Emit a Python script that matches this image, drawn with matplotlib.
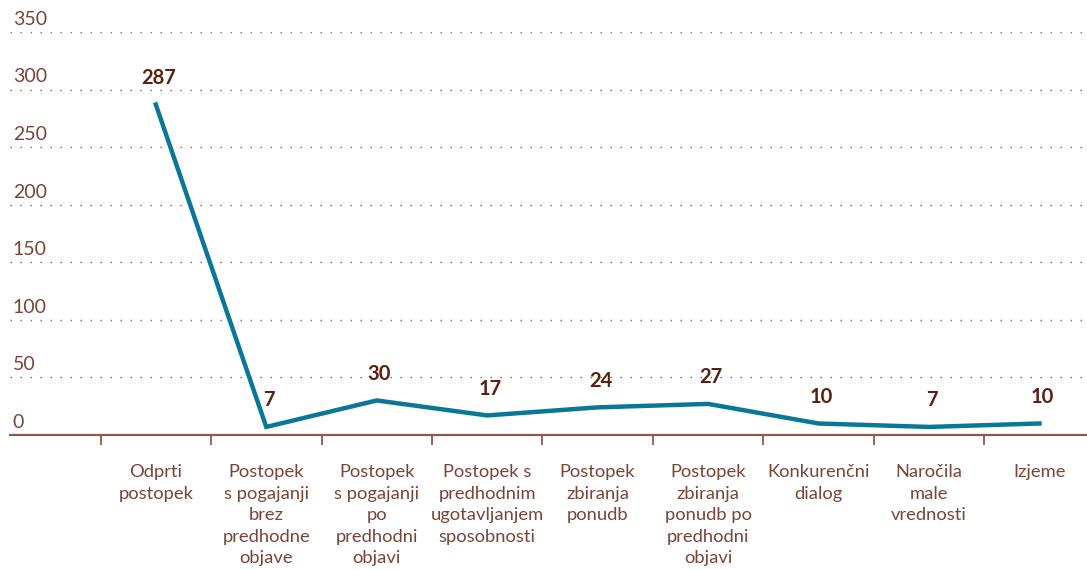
import matplotlib
matplotlib.use("Agg")
import matplotlib.pyplot as plt
import matplotlib.transforms as mtransforms

categories = [
    "Odprti\npostopek",
    "Postopek\ns pogajanji\nbrez\npredhodne\nobjave",
    "Postopek\ns pogajanji\npo\npredhodni\nobjavi",
    "Postopek s\npredhodnim\nugotavljanjem\nsposobnosti",
    "Postopek\nzbiranja\nponudb",
    "Postopek\nzbiranja\nponudb po\npredhodni\nobjavi",
    "Konkurenčni\ndialog",
    "Naročila\nmale\nvrednosti",
    "Izjeme",
]
values = [287, 7, 30, 17, 24, 27, 10, 7, 10]
yticks = [0, 50, 100, 150, 200, 250, 300, 350]

TXT = "#7a4536"
LBL = "#5b1f0f"
LINE = "#0b7796"
AX = "#8c5a4a"

plt.rcParams['font.family'] = ['Lato', 'DejaVu Sans']

fig = plt.figure(figsize=(10.87, 5.70), dpi=100)
ax = fig.add_axes([10/1087, 1-435/570, 1077/1087, (435-32)/570])

x = list(range(len(values)))
ax.plot(x, values, color=LINE, lw=3.2, solid_joinstyle='miter', zorder=3)
for xi, v in zip(x, values):
    ax.annotate(str(v), (xi, v), xytext=(2, 12), textcoords='offset points',
                ha='center', va='bottom', color=LBL, fontsize=14.5, fontweight='bold')

ax.set_xlim(-1.32, 8.43)
ax.set_ylim(0, 350)

for t in yticks[1:]:
    ax.axhline(t, color=AX, lw=1.0, linestyle=(0, (1, 6.2)), zorder=1)

# y tick labels placed above gridlines at the left edge
ax.set_yticks([])
trans = mtransforms.blended_transform_factory(ax.transAxes, ax.transData)
for t in yticks:
    ax.annotate(str(t), (0, t), xycoords=trans, xytext=(2, 3), textcoords='offset points',
                ha='left', va='bottom', color=TXT, fontsize=14, fontweight='normal')

# x axis: boundary ticks, category labels at centers
ax.set_xticks([i - 0.5 for i in x])
ax.set_xticklabels([])
ax.tick_params(axis='x', which='major', direction='out', length=7, width=1.3, color=AX)
ax.set_xticks(x, minor=True)
ax.set_xticklabels(categories, minor=True, color=TXT, fontsize=13.2, linespacing=1.42)
ax.tick_params(axis='x', which='minor', length=0, pad=21)

for s in ['top', 'right', 'left']:
    ax.spines[s].set_visible(False)
ax.spines['bottom'].set_color(AX)
ax.spines['bottom'].set_linewidth(1.6)

fig.savefig("out.png", dpi=100)
